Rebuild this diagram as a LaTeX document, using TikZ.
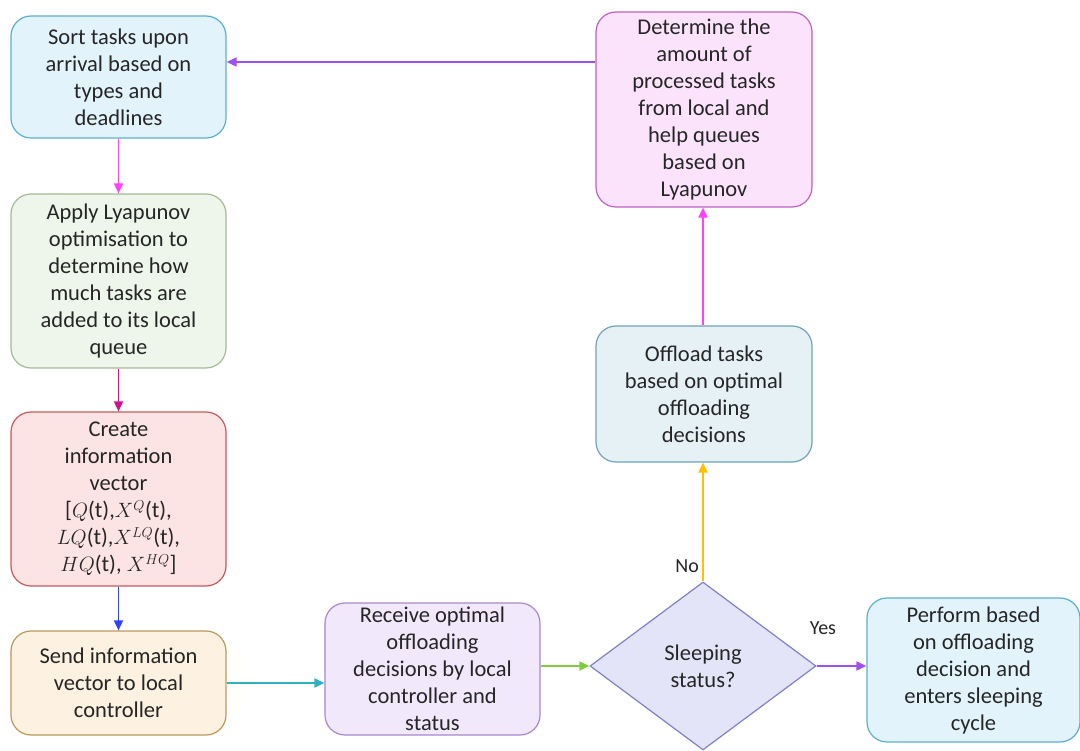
\documentclass[tikz,border=0pt]{standalone}
\usepackage{fontspec}
\setmainfont{Carlito}
\usetikzlibrary{arrows.meta,shapes.geometric}
\definecolor{txt}{HTML}{262626}
\definecolor{blueF}{HTML}{E2F3FC}\definecolor{blueD}{HTML}{5AAFD0}
\definecolor{greenF}{HTML}{EEF5EA}\definecolor{greenD}{HTML}{A8B898}
\definecolor{redF}{HTML}{FDE4E4}\definecolor{redD}{HTML}{C8585A}
\definecolor{orangeF}{HTML}{FDF1E1}\definecolor{orangeD}{HTML}{B89A5A}
\definecolor{lilacF}{HTML}{F1E8FB}\definecolor{lilacD}{HTML}{A887D0}
\definecolor{diaF}{HTML}{E4E4F8}\definecolor{diaD}{HTML}{8080C8}
\definecolor{tealF}{HTML}{E6F1F5}\definecolor{tealD}{HTML}{6FA3B5}
\definecolor{pinkF}{HTML}{FCE3FC}\definecolor{pinkD}{HTML}{C060C0}
\definecolor{cPurple}{HTML}{A050F0}
\definecolor{cMagenta}{HTML}{FF40FF}
\definecolor{cDeepMag}{HTML}{D0108F}
\definecolor{cBlue}{HTML}{3040FF}
\definecolor{cTeal}{HTML}{30B0C0}
\definecolor{cGreen}{HTML}{80CC40}
\definecolor{cGold}{HTML}{FFC000}
\begin{document}
\begin{tikzpicture}[x=1pt,y=-1pt,
  box/.style={rounded corners=20pt, draw, line width=1.2pt, align=center,
    inner sep=0pt, text=txt, font=\fontsize{22.5}{27}\selectfont},
  decision/.style={diamond, draw, line width=1.2pt, align=center, inner sep=0pt,
    aspect=1.345, minimum width=226pt, minimum height=168pt, text=txt,
    font=\fontsize{22.5}{27}\selectfont},
  flow/.style={line width=1.8pt, -{Triangle[length=10pt,width=9pt]}},
  lbl/.style={text=txt, font=\fontsize{20}{24}\selectfont, inner sep=0pt}]
\useasboundingbox (0,0) rectangle (1080,751);

\node[box, fill=blueF, draw=blueD, minimum width=215pt, minimum height=122pt]
  (sort) at (118.5,77) {Sort tasks upon\\ arrival based on\\ types and\\ deadlines};
\node[box, fill=greenF, draw=greenD, minimum width=215pt, minimum height=174pt]
  (apply) at (118.5,281) {Apply Lyapunov\\ optimisation to\\ determine how\\ much tasks are\\ added to its local\\ queue};
\node[box, fill=redF, draw=redD, minimum width=215pt, minimum height=174pt]
  (create) at (118.5,499) {Create\\ information\\ vector\\ {[}$Q$(t),$X^{Q}$(t),\\ $LQ$(t),$X^{LQ}$(t),\\ $HQ$(t), $X^{HQ}${]}};
\node[box, fill=orangeF, draw=orangeD, minimum width=215pt, minimum height=104pt]
  (send) at (118.5,683) {Send information\\ vector to local\\ controller};
\node[box, fill=lilacF, draw=lilacD, minimum width=215pt, minimum height=132pt]
  (recv) at (432.5,669) {Receive optimal\\ offloading\\ decisions by local\\ controller and\\ status};
\node[decision, fill=diaF, draw=diaD] (sleep) at (703,666) {Sleeping\\ status?};
\node[box, fill=blueF, draw=blueD, minimum width=213pt, minimum height=144pt]
  (perform) at (973.5,670) {Perform based\\ on offloading\\ decision and\\ enters sleeping\\ cycle};
\node[box, fill=tealF, draw=tealD, minimum width=216pt, minimum height=136pt]
  (offload) at (704,394) {Offload tasks\\ based on optimal\\ offloading\\ decisions};
\node[box, fill=pinkF, draw=pinkD, minimum width=216pt, minimum height=195pt]
  (determine) at (704,109.5) {Determine the\\ amount of\\ processed tasks\\ from local and\\ help queues\\ based on\\ Lyapunov};

\draw[flow, cPurple] (determine.west |- 0,62) -- (sort.east |- 0,62);
\draw[flow, cMagenta] (sort) -- (apply);
\draw[flow, cDeepMag] (apply) -- (create);
\draw[flow, cBlue] (create) -- (send);
\draw[flow, cTeal] (send) -- (recv.west |- send);
\draw[flow, cGreen] (recv.east |- sleep) -- (sleep.west);
\draw[flow, cPurple] (sleep.east) -- (perform.west |- sleep);
\draw[flow, cGold] (sleep.north) -- (offload.south -| sleep.north);
\draw[flow, cMagenta] (offload.north -| sleep.north) -- (determine.south -| sleep.north);

\node[lbl, anchor=east] (no) at (699,566) {No};
\node[lbl] (yes) at (823,628) {Yes};
\end{tikzpicture}
\end{document}
